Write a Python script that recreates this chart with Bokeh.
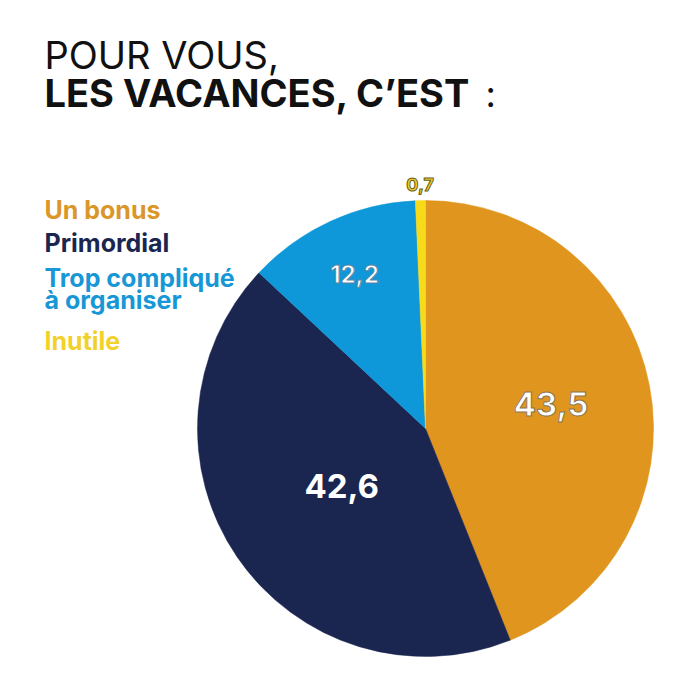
import math
from bokeh.plotting import figure
from bokeh.models import Range1d, ColumnDataSource
from bokeh.core.properties import value
from bokeh.embed import file_html
from bokeh.resources import INLINE

# ---- data ----
categories = ["Un bonus", "Primordial", "Trop compliqué\nà organiser", "Inutile"]
values = [43.5, 42.6, 12.2, 0.7]
labels = ["43,5", "42,6", "12,2", "0,7"]
slice_colors = ["#E0951F", "#1B2650", "#0E98D9", "#F7DA1A"]
legend_colors = ["#DB962A", "#1B2650", "#1797D6", "#F2D22A"]

W, H = 684, 678
p = figure(width=W, height=H, output_backend="svg", toolbar_location=None,
           x_range=Range1d(0, W), y_range=Range1d(0, H), min_border=0)
p.axis.visible = False
p.grid.visible = False
p.outline_line_color = None
p.background_fill_color = "white"
p.border_fill_color = "white"

def Y(py):
    return H - py

cx, cy, r = 425, Y(428), 228
total = sum(values)
starts, ends, mids = [], [], []
cum = 0.0
for v in values:
    a0 = cum / total * 2 * math.pi
    cum += v
    a1 = cum / total * 2 * math.pi
    starts.append(math.pi / 2 - a0)
    ends.append(math.pi / 2 - a1)
    mids.append(math.pi / 2 - (a0 + a1) / 2)

src = ColumnDataSource(dict(start=starts, end=ends, color=slice_colors))
p.wedge(x=cx, y=cy, radius=r, start_angle="start", end_angle="end",
        direction="clock", fill_color="color", line_color="color", line_width=0.5,
        source=src)

# slice value labels
rfrac = [0.56, 0.445, 0.745, 1.07]
sizes = ["33px", "33px", "24px", "18px"]
tcolors = ["white", "white", "white", "#F2D22A"]
outlines = ["#8a7555", None, "#5a86a8", "#6b5e1a"]
for i in range(4):
    lx = cx + rfrac[i] * r * math.cos(mids[i])
    ly = cy + rfrac[i] * r * math.sin(mids[i])
    kw = {}
    if outlines[i]:
        kw["text_outline_color"] = outlines[i]
    p.text(x=[lx], y=[ly], text=[labels[i]], text_color=tcolors[i],
           text_font=value("Inter"), text_font_size=sizes[i],
           text_font_style="bold",
           text_align="center", text_baseline="middle", **kw)

def txt(x, base, s, size, color, style="normal"):
    p.text(x=[x], y=[Y(base - 0.3 * size)], text=[s], text_color=color,
           text_font=value("Inter"), text_font_size=f"{size}px",
           text_font_style=style, text_align="left", text_baseline="alphabetic")

# title
txt(44, 66, "POUR VOUS,", 38, "#111111")
txt(44, 104, "LES VACANCES, C’EST", 38, "#111111", "bold")
txt(485, 104, ":", 36, "#111111")

# legend
baselines = [217, 250, 285, 348]
for i, cat in enumerate(categories):
    for j, ln in enumerate(cat.split("\n")):
        txt(44, baselines[i] + 22 * j, ln, 25, legend_colors[i], "bold")

open("out.html", "w").write(file_html(p, INLINE))
